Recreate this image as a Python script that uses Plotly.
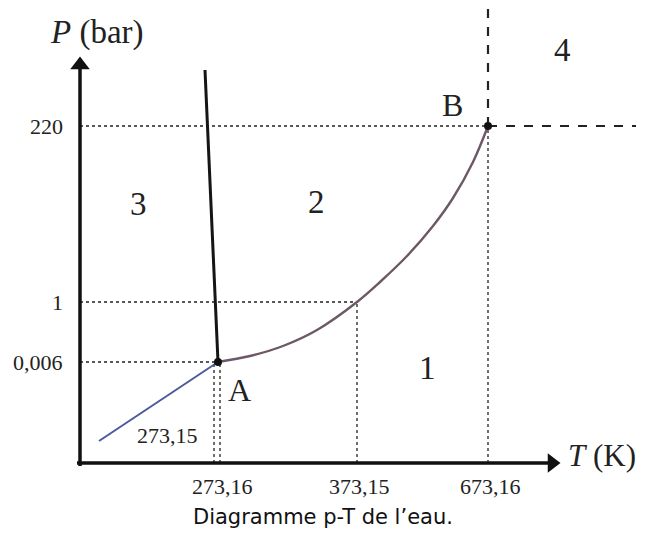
import plotly.graph_objects as go

# ---- data (schematic positions: origin = axes crossing, units ~ px) ----
T_labels = ["273,16", "373,15", "673,16"]
T_pos = [140, 277, 408]
T_melt_label = "273,15"
T_melt_pos = 134
P_labels = ["0,006", "1", "220"]
P_pos = [101, 161, 337]

# triple point A and critical point B
A = (138, 101)
B = (408, 337)

# sublimation curve (blue), melting curve (black), vaporization curve
subl_T = [19, A[0]]
subl_P = [22, A[1]]
melt_T = [125, A[0]]
melt_P = [393, A[1]]
vap_T = [138, 170, 203, 237, 277, 300, 327, 353, 373, 393, 408]
vap_P = [101, 107, 117, 133, 161, 181, 207, 237, 265, 301, 337]

regions = ["1", "2", "3", "4"]
region_T = [347, 236, 58, 482]
region_P = [95, 261, 259, 413]

X_END = 480
Y_END = 406

fig = go.Figure()

dot = dict(color="#222222", width=1.3, dash="dot")
dash = dict(color="#222222", width=2.2, dash="dash")

# dotted guide lines
for p, t in zip(P_pos, [A[0], T_pos[1], T_pos[2]]):
    fig.add_trace(go.Scatter(x=[0, t], y=[p, p], mode="lines", line=dot, hoverinfo="skip"))
for t, p in zip([T_melt_pos, T_pos[0], T_pos[1], T_pos[2]], [A[1], A[1], P_pos[1], P_pos[2]]):
    fig.add_trace(go.Scatter(x=[t, t], y=[0, p], mode="lines", line=dot, hoverinfo="skip"))

# dashed supercritical boundaries
fig.add_trace(go.Scatter(x=[B[0], B[0]], y=[B[1], 455], mode="lines", line=dash, hoverinfo="skip"))
fig.add_trace(go.Scatter(x=[B[0], 556], y=[B[1], B[1]], mode="lines", line=dash, hoverinfo="skip"))

# curves
fig.add_trace(go.Scatter(x=subl_T, y=subl_P, mode="lines",
                         line=dict(color="#4a5a9c", width=2), hoverinfo="skip"))
fig.add_trace(go.Scatter(x=vap_T, y=vap_P, mode="lines",
                         line=dict(color="#6d5966", width=2.4, shape="spline", smoothing=1.0), hoverinfo="skip"))
fig.add_trace(go.Scatter(x=melt_T, y=melt_P, mode="lines",
                         line=dict(color="#151515", width=3), hoverinfo="skip"))

# axes
fig.add_trace(go.Scatter(x=[-3, X_END - 10], y=[0, 0], mode="lines",
                         line=dict(color="#111111", width=3.5), hoverinfo="skip"))
fig.add_trace(go.Scatter(x=[0, 0], y=[-3, Y_END - 10], mode="lines",
                         line=dict(color="#111111", width=3.5), hoverinfo="skip"))
fig.add_trace(go.Scatter(x=[X_END - 8], y=[0], mode="markers",
                         marker=dict(symbol="triangle-right", size=17, color="#111111"), hoverinfo="skip"))
fig.add_trace(go.Scatter(x=[0], y=[Y_END - 8], mode="markers",
                         marker=dict(symbol="triangle-up", size=17, color="#111111"), hoverinfo="skip"))

# points A, B
fig.add_trace(go.Scatter(x=[A[0], B[0]], y=[A[1], B[1]], mode="markers",
                         marker=dict(size=8, color="#111111"), hoverinfo="skip"))

serif = "Liberation Serif"
ann = []
for lab, t in zip(T_labels, T_pos):
    ann.append(dict(x=t + 2, y=-23, text=lab, showarrow=False, font=dict(family=serif, size=22, color="#222")))
for lab, p in zip(P_labels, P_pos):
    ann.append(dict(x=-15, y=p, text=lab, xanchor="right", showarrow=False,
                    font=dict(family=serif, size=22, color="#222")))
ann.append(dict(x=87, y=28, text=T_melt_label, showarrow=False, font=dict(family=serif, size=22, color="#222")))
for lab, t, p in zip(regions, region_T, region_P):
    ann.append(dict(x=t, y=p, text=lab, showarrow=False, font=dict(family=serif, size=33, color="#222")))
ann.append(dict(x=A[0] + 21, y=A[1] - 28, text="A", showarrow=False, font=dict(family=serif, size=32, color="#222")))
ann.append(dict(x=B[0] - 36, y=B[1] + 21, text="B", showarrow=False, font=dict(family=serif, size=32, color="#222")))
ann.append(dict(x=17, y=431, text="<i>P</i> (bar)", showarrow=False, font=dict(family=serif, size=33, color="#222")))
ann.append(dict(x=558, y=8, text="<i>T</i> (K)", xanchor="right", showarrow=False,
                font=dict(family=serif, size=31, color="#222")))
ann.append(dict(x=243, y=-54, text="Diagramme p-T de l’eau.", showarrow=False,
                font=dict(family="DejaVu Sans", size=21, color="#111")))

fig.update_layout(
    width=646, height=544,
    margin=dict(l=0, r=0, t=0, b=0),
    paper_bgcolor="white", plot_bgcolor="white",
    showlegend=False,
    # ranges offset by 8 px to compensate the page's default body margin
    xaxis=dict(range=[-72, 574], visible=False, fixedrange=True),
    yaxis=dict(range=[-89, 455], visible=False, fixedrange=True),
    annotations=ann,
)

fig.write_html("out.html")
